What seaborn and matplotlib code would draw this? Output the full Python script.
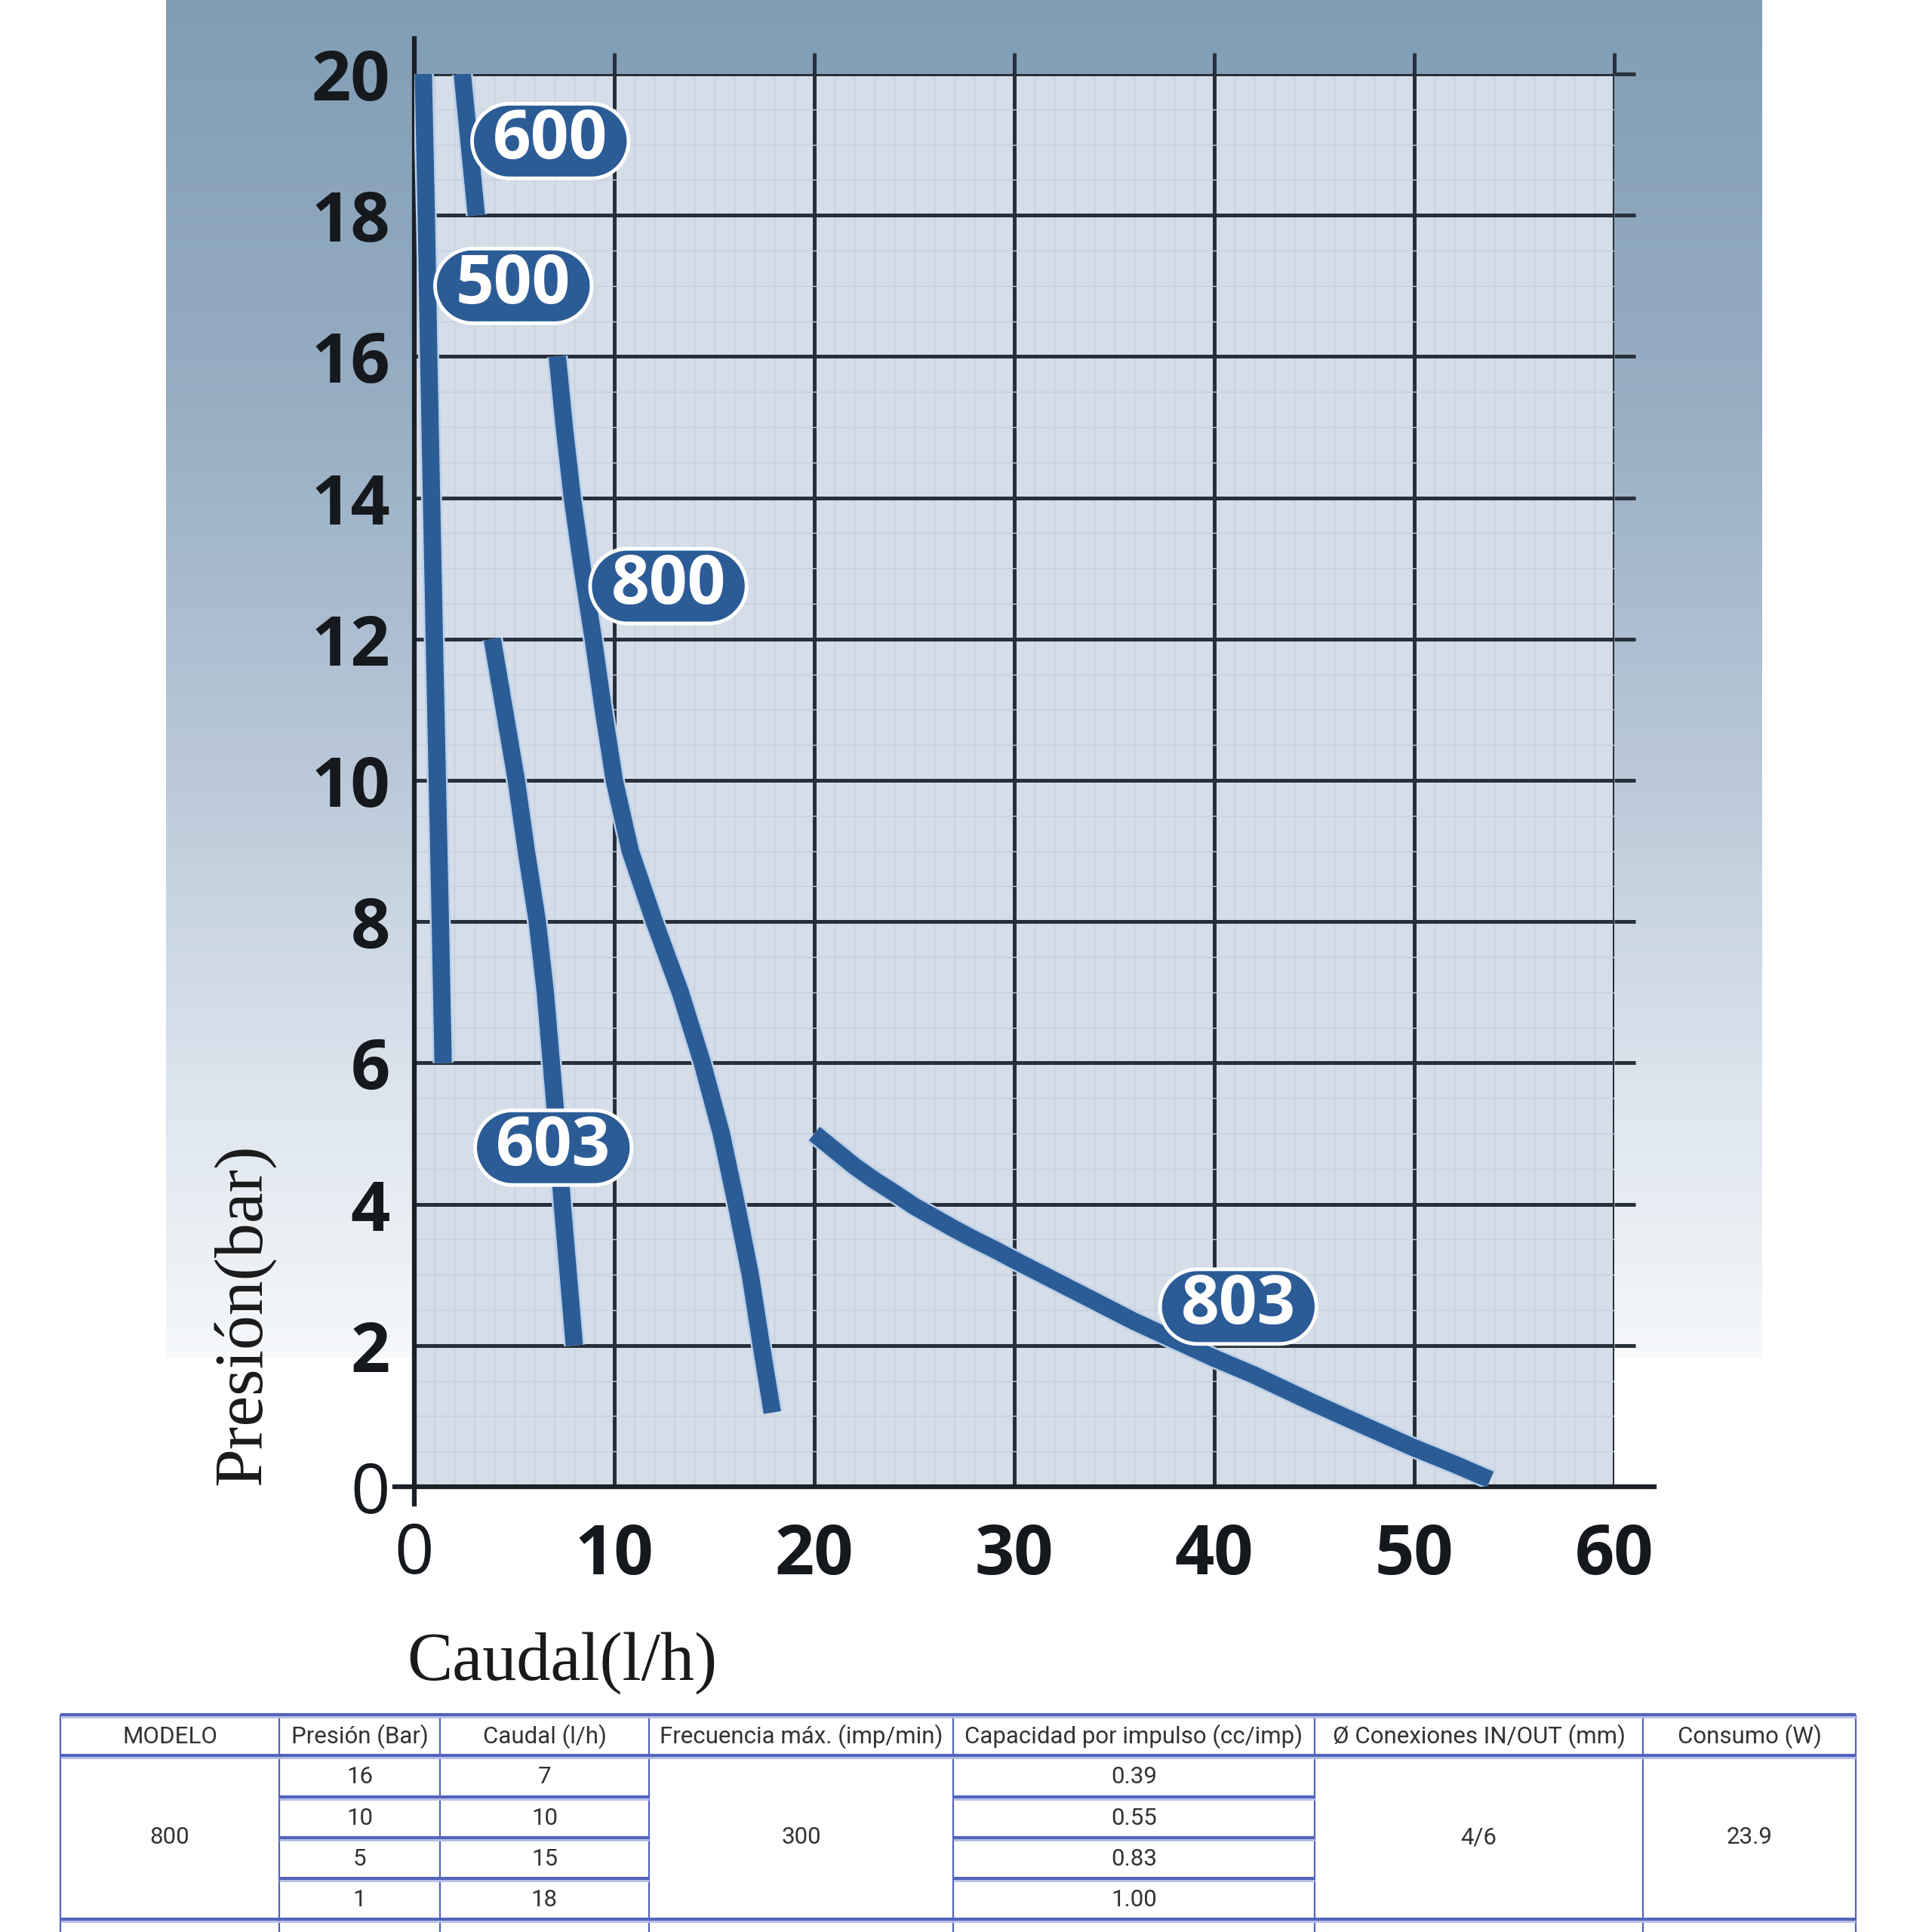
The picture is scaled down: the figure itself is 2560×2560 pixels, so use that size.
import numpy as np
import pandas as pd
import matplotlib
matplotlib.use('Agg')
import matplotlib.pyplot as plt
import matplotlib.patheffects as pe
from matplotlib.colors import LinearSegmentedColormap
from matplotlib.ticker import MultipleLocator
from matplotlib.path import Path
import seaborn as sns

# curves: caudal (l/h) -> presion (bar)
m500_caudal = [0.45, 0.6, 0.72, 0.86, 1.0, 1.15, 1.3, 1.44]
m500_presion = [20, 18, 16, 14, 12, 10, 8, 6]
m600_caudal = [2.4, 3.1]
m600_presion = [20, 18]
m800_caudal = [7.15, 7.5, 7.9, 8.4, 8.95, 9.45, 10.0, 10.8, 12.0, 13.3, 14.4, 15.35,
               16.1, 16.8, 17.35, 17.9]
m800_presion = [16, 15, 14, 13, 12, 11, 10, 9, 8, 7, 6, 5, 4, 3, 2, 1.05]
m603_caudal = [3.9, 4.5, 5.1, 5.6, 6.15, 6.55, 6.85, 7.15, 7.4, 7.7, 8.0]
m603_presion = [12, 11, 10, 9, 8, 7, 6, 5, 4, 3, 2]
m803_caudal = [20, 21, 22, 23, 24, 25, 26, 27, 28, 29, 30, 32, 34, 36, 38, 40, 42, 45,
               48, 50, 52, 53.8]
m803_presion = [5.0, 4.77, 4.54, 4.34, 4.16, 3.97, 3.81, 3.65, 3.5, 3.36, 3.21, 2.92,
                2.63, 2.34, 2.08, 1.82, 1.58, 1.18, 0.8, 0.55, 0.32, 0.1]

models = ['500', '600', '800', '603', '803']
label_caudal = [4.95, 6.8, 12.7, 6.95, 41.2]
label_presion = [17.0, 19.05, 12.75, 4.8, 2.55]

x_ticks = [0, 10, 20, 30, 40, 50, 60]
y_ticks = [0, 2, 4, 6, 8, 10, 12, 14, 16, 18, 20]

# spec table under the chart
table_header = ['MODELO', 'Presión (Bar)', 'Caudal (l/h)', 'Frecuencia máx. (imp/min)',
                'Capacidad por impulso (cc/imp)', 'Ø Conexiones IN/OUT (mm)', 'Consumo (W)']
table_modelo = '800'
table_presion = ['16', '10', '5', '1']
table_caudal = ['7', '10', '15', '18']
table_frecuencia = '300'
table_capacidad = ['0.39', '0.55', '0.83', '1.00']
table_conexiones = '4/6'
table_consumo = '23.9'

curves = {'500': (m500_caudal, m500_presion), '600': (m600_caudal, m600_presion),
          '800': (m800_caudal, m800_presion), '603': (m603_caudal, m603_presion),
          '803': (m803_caudal, m803_presion)}
df = pd.concat([pd.DataFrame({'modelo': m, 'caudal': c[0], 'presion': c[1]})
                for m, c in curves.items()], ignore_index=True)

line_color = '#2c5c96'
grid_color = '#27303a'


def pill_box(x0, y0, width, height, mutation_size):
    # pill shaped label box: wide side padding, thin top/bottom padding
    hpad = 0.31 * mutation_size
    vpad = 0.05 * mutation_size
    x0, x1 = x0 - hpad, x0 + width + hpad
    y0, y1 = y0 - vpad, y0 + height + vpad
    r = (y1 - y0) / 2
    cy = (y0 + y1) / 2
    t = np.linspace(np.pi / 2, 3 * np.pi / 2, 40)
    left = np.column_stack([x0 + r + r * np.cos(t), cy + r * np.sin(t)])
    t2 = np.linspace(-np.pi / 2, np.pi / 2, 40)
    right = np.column_stack([x1 - r + r * np.cos(t2), cy + r * np.sin(t2)])
    verts = np.vstack([left, right, left[:1]])
    return Path(verts, closed=True)


sns.set_theme(style='white')
plt.rcParams['font.family'] = ['Open Sans', 'DejaVu Sans']

fig = plt.figure(figsize=(25.6, 25.6), dpi=100)
W = H = 2560

# gradient panel behind the chart
bg = fig.add_axes([220 / W, 1 - 1800 / H, (2335 - 220) / W, 1800 / H], zorder=0)
cmap = LinearSegmentedColormap.from_list('panel', [(0, '#819db4'), (0.3, '#97aec3'),
                                                   (0.55, '#b7c7d7'), (0.8, '#dce4ed'),
                                                   (1.0, '#f6f8fa')])
bg.imshow(np.linspace(0, 1, 256).reshape(-1, 1), aspect='auto', cmap=cmap,
          extent=[0, 1, 0, 1])
bg.axis('off')

ax = fig.add_axes([549 / W, 1 - 1970 / H, 1590 / W, 1872 / H], zorder=1)
ax.set_facecolor('#d5dde8')

sns.lineplot(data=df, x='caudal', y='presion', hue='modelo', estimator=None, sort=False,
             palette={m: line_color for m in models}, linewidth=16.5, legend=False,
             ax=ax, solid_capstyle='butt', solid_joinstyle='round', zorder=3)
for ln in ax.get_lines():
    ln.set_path_effects([pe.Stroke(linewidth=20, foreground='#b8cfe9'), pe.Normal()])

for name, cx, cy in zip(models, label_caudal, label_presion):
    ax.text(cx, cy, name, ha='center', va='center', fontsize=64, fontweight='bold',
            color='white', zorder=5,
            bbox=dict(boxstyle=pill_box, fc=line_color, ec='white', lw=3.5))

ax.set_xlim(0, 60)
ax.set_ylim(0, 20)
ax.set_xticks(x_ticks, labels=[str(v) for v in x_ticks])
ax.set_yticks(y_ticks, labels=[str(v) for v in y_ticks])
ax.xaxis.set_minor_locator(MultipleLocator(1))
ax.yaxis.set_minor_locator(MultipleLocator(0.5))
ax.set_axisbelow(True)
ax.grid(which='minor', color='#c5cfdb', lw=1.0)
ax.grid(which='major', color=grid_color, lw=3.6)
ax.tick_params(which='major', direction='out', length=20, width=3.6, color=grid_color,
               top=True, right=True, left=False, bottom=False, labelsize=66,
               labelcolor='#15191e')
ax.tick_params(axis='x', which='major', pad=13)
ax.tick_params(axis='y', which='major', pad=3)
ax.tick_params(which='minor', length=0)
for lab in ax.get_xticklabels() + ax.get_yticklabels():
    lab.set_fontweight('bold')
ax.get_xticklabels()[0].set_fontweight('normal')
ax.get_yticklabels()[0].set_fontweight('normal')

for side in ['top', 'right']:
    ax.spines[side].set_visible(False)
for side in ['left', 'bottom']:
    ax.spines[side].set_color('#1b2026')
    ax.spines[side].set_linewidth(4.5)
ax.spines['left'].set_bounds(-0.25, 20.5)
ax.spines['bottom'].set_bounds(-1.0, 62.0)

ax.set_xlabel('Caudal(l/h)', fontsize=65, family='Liberation Serif', color='#1a1a1a',
              va='center')
ax.set_ylabel('Presión(bar)', fontsize=66, family='Liberation Serif', color='#1a1a1a',
              va='center')
ax.xaxis.set_label_coords(0.123, -0.125)
ax.yaxis.set_label_coords(-0.142, 0.122)

# table (drawn in pixel-like layout coordinates)
tax = fig.add_axes([0, 0, 1, 300 / H], zorder=2)
tax.set_xlim(0, W)
tax.set_ylim(2560, 2260)
tax.axis('off')
cols = [80, 370, 583, 860, 1263, 1742, 2177, 2459]
rows = [2272, 2326, 2381, 2435, 2489, 2543]
edge = '#5264bb'
edge_light = '#b4bde6'
tfont = dict(family=['Roboto', 'DejaVu Sans'], fontsize=22.5, color='#333333',
             ha='center', va='center')

tax.vlines(cols, rows[0], 2565, color=edge, lw=1.6)
for yy in [rows[0], rows[1], rows[5]]:
    tax.hlines(yy, cols[0], cols[-1], color=edge, lw=3)
    tax.hlines(yy + 3, cols[0], cols[-1], color=edge_light, lw=2)
for yy in rows[2:5]:
    for a, b in [(cols[1], cols[3]), (cols[4], cols[5])]:
        tax.hlines(yy, a, b, color=edge, lw=3)
        tax.hlines(yy + 3, a, b, color=edge_light, lw=2)

for i, h in enumerate(table_header):
    tax.text((cols[i] + cols[i + 1]) / 2, (rows[0] + rows[1]) / 2 + 2, h, **tfont)
mid = (rows[1] + rows[5]) / 2
for i, v in [(0, table_modelo), (3, table_frecuencia), (5, table_conexiones), (6, table_consumo)]:
    tax.text((cols[i] + cols[i + 1]) / 2, mid, v, **tfont)
for r in range(4):
    yc = (rows[r + 1] + rows[r + 2]) / 2 + 1
    tax.text((cols[1] + cols[2]) / 2, yc, table_presion[r], **tfont)
    tax.text((cols[2] + cols[3]) / 2, yc, table_caudal[r], **tfont)
    tax.text((cols[4] + cols[5]) / 2, yc, table_capacidad[r], **tfont)

fig.savefig('out.png', dpi=100, facecolor='white')
